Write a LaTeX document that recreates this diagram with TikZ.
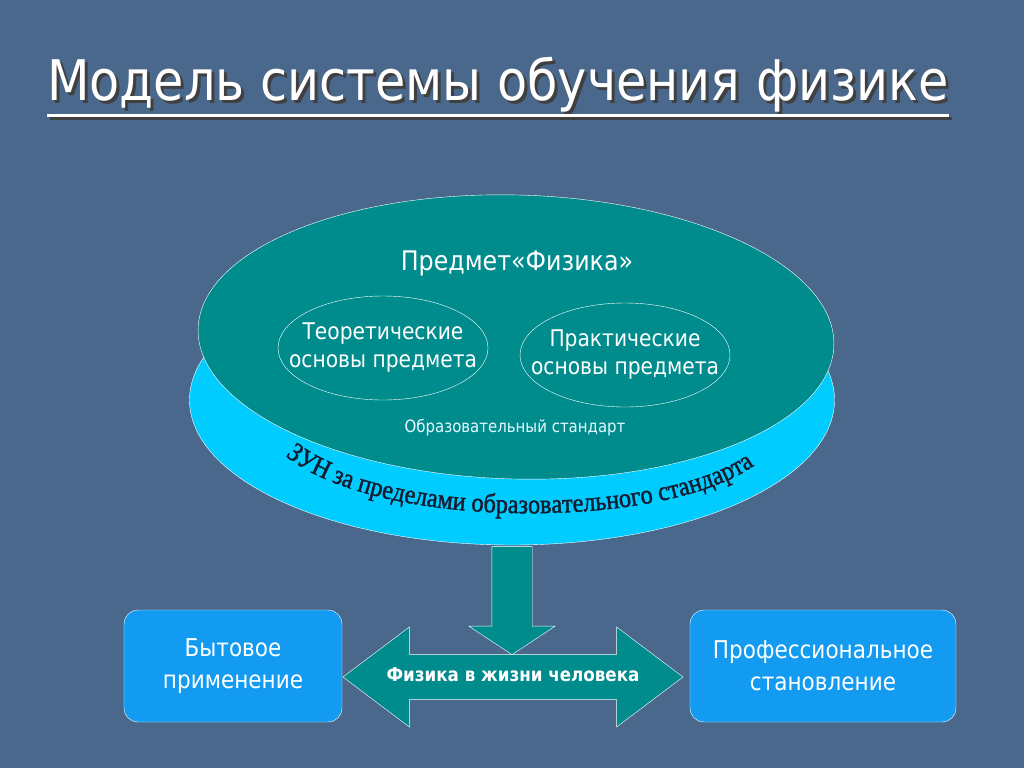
\documentclass[tikz,border=0pt]{standalone}
\usepackage{fontspec}
\setmainfont{DejaVu Sans}[FakeStretch=0.88]
\newfontfamily\titlefont{DejaVu Sans}[FakeStretch=0.88]
\newfontfamily\zunfont{Liberation Serif}[FakeStretch=0.9,FakeBold=1.5]
\usetikzlibrary{shapes.geometric,shapes.arrows,decorations.text}

\definecolor{bgblue}{RGB}{74,104,140}
\definecolor{diskteal}{RGB}{0,140,140}
\definecolor{diskcyan}{RGB}{0,204,255}
\definecolor{boxblue}{RGB}{18,155,240}
\definecolor{zundark}{RGB}{20,28,48}

\tikzset{
  disk/.style={ellipse, draw=white, thin},
  part/.style={ellipse, draw=white, thin, align=center, text=white, inner xsep=-20pt, inner ysep=10pt,
    minimum width=210, minimum height=104, font=\fontsize{23}{28}\selectfont},
  usebox/.style={rounded corners=14pt, draw=white, thin, fill=boxblue, text=white, align=center, font=\fontsize{24.5}{32}\selectfont}
}

\begin{document}
\begin{tikzpicture}[x=1pt,y=-1pt]
\useasboundingbox (0,0) rectangle (1024,768);
\fill[bgblue] (0,0) rectangle (1024,768);

% title
\node[anchor=base west, inner sep=0, text=black!75, font=\titlefont\fontsize{56}{60}\selectfont] at (50,103) {Модель системы обучения физике};
\node[anchor=base west, inner sep=0, text=white, font=\titlefont\fontsize{56}{60}\selectfont] (title) at (47,100) {Модель системы обучения физике};
\draw[black!75, line width=3pt] ([shift={(3,7)}]title.south west) -- ([shift={(3,7)}]title.south east);
\draw[white, line width=3pt] ([shift={(0,4)}]title.south west) -- ([shift={(0,4)}]title.south east);

% disk
\node[disk, fill=diskcyan, minimum width=645, minimum height=290] (side) at (512,400) {};
\node[disk, fill=diskteal, minimum width=636, minimum height=284, rotate=-1.5] (top) at (516,337) {};
\node[text=white, font=\fontsize{27}{30}\selectfont] (subject) at (517,263) {Предмет«Физика»};
\node[part] (theory) at (383,348) {Теоретические\\основы предмета};
\node[part] (practice) at (625,355) {Практические\\основы предмета};
\node[text=white!90!diskcyan, font=\fontsize{17}{20}\selectfont] (standard) at (515,428) {Образовательный стандарт};
\path[decorate, decoration={text along path, text align=center,
  text={|\zunfont\fontsize{27}{27}\selectfont\color{zundark}|ЗУН за пределами образовательного стандарта}}]
  (281,452) .. controls (370,532) and (670,532) .. (759,462);

% arrows
\node[single arrow, rotate=-90, fill=diskteal, draw=white, thin, inner xsep=0, inner ysep=20,
  minimum height=108, minimum width=86, single arrow tip angle=113, single arrow head extend=23] (down) at (512,594) {};
\node[double arrow, fill=diskteal, draw=white, thin, text=white, inner xsep=0, inner ysep=14,
  text height=12pt, text depth=4pt, minimum height=340, minimum width=100,
  double arrow tip angle=74, double arrow head extend=27,
  font=\bfseries\fontsize{19}{21}\selectfont] (life) at (513,677) {Физика в жизни человека};

% boxes
\node[usebox, minimum width=218, minimum height=112] (home) at (233,666) {Бытовое\\применение};
\node[usebox, minimum width=266, minimum height=112] (career) at (823,666) {Профессиональное\\становление};
\end{tikzpicture}
\end{document}
